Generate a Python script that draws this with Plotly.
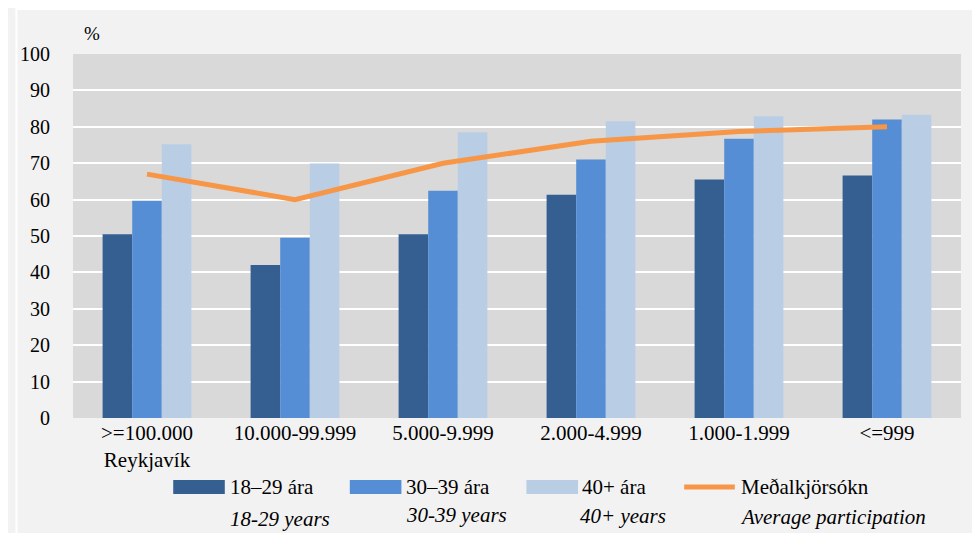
import plotly.graph_objects as go

categories = [">=100.000<br>Reykjavík", "10.000-99.999", "5.000-9.999", "2.000-4.999", "1.000-1.999", "<=999"]
age_18_29 = [50.5, 42.0, 50.5, 61.3, 65.5, 66.6]
age_30_39 = [59.7, 49.5, 62.4, 71.0, 76.7, 82.0]
age_40_plus = [75.2, 69.9, 78.5, 81.5, 82.9, 83.3]
average = [67, 60, 70, 76, 78.7, 80]

names_is = ["18–29 ára", "30–39 ára", "40+ ára", "Meðalkjörsókn"]
names_en = ["18-29 years", "30-39 years", "40+ years", "Average participation"]
colors = ["#365F91", "#558ED5", "#B9CDE5", "#F79646"]

FONT = "Liberation Serif"
OFF = 8  # page body margin
W, H = 980 - OFF, 533 - OFF
L = 66 - OFF
T = 54 - OFF
R = W - (961 - OFF)
B = H - (418 - OFF)
PW, PH = W - L - R, H - T - B


def px(x):
    return (x - OFF - L) / PW


def py(y):
    return (H - B - (y - OFF)) / PH


fig = go.Figure()
for vals, name, col in zip([age_18_29, age_30_39, age_40_plus], names_is[:3], colors[:3]):
    fig.add_trace(go.Bar(x=categories, y=vals, name=name, marker=dict(color=col, line=dict(width=0)),
                         showlegend=False))
fig.add_trace(go.Scatter(x=categories, y=average, name=names_is[3], mode="lines",
                         line=dict(color=colors[3], width=5), showlegend=False))

shapes = [
    dict(type="rect", xref="paper", yref="paper", x0=px(OFF), x1=px(980), y0=py(10), y1=py(OFF),
         fillcolor="white", line=dict(width=0), layer="below"),
    dict(type="rect", xref="paper", yref="paper", x0=px(OFF), x1=px(10), y0=py(533), y1=py(OFF),
         fillcolor="white", line=dict(width=0), layer="below"),
]
annotations = [
    dict(text="%", xref="paper", yref="paper", x=px(85), y=py(34), showarrow=False,
         font=dict(family=FONT, size=19, color="#000"), xanchor="center", yanchor="middle"),
]

sw_x = [167, 345, 523]
txt_x = [222, 400, 577, 737]
en_x = [222, 400, 575, 736]
en_y = [519, 515, 516, 517]
for i in range(3):
    shapes.append(dict(type="rect", xref="paper", yref="paper", x0=px(sw_x[i]), x1=px(sw_x[i] + 52),
                       y0=py(494), y1=py(480), fillcolor=colors[i], line=dict(width=0)))
shapes.append(dict(type="line", xref="paper", yref="paper", x0=px(682), x1=px(733), y0=py(487), y1=py(487),
                   line=dict(color=colors[3], width=5)))
for i in range(4):
    annotations.append(dict(text=names_is[i], xref="paper", yref="paper", x=px(txt_x[i]), y=py(487),
                            showarrow=False, xanchor="left", yanchor="middle",
                            font=dict(family=FONT, size=21, color="#000")))
    annotations.append(dict(text="<i>" + names_en[i] + "</i>", xref="paper", yref="paper", x=px(en_x[i]),
                            y=py(en_y[i]), showarrow=False, xanchor="left", yanchor="middle",
                            font=dict(family=FONT, size=21, color="#000")))

fig.update_layout(
    width=W, height=H,
    margin=dict(l=L, r=R, t=T, b=B, pad=0),
    paper_bgcolor="#F2F2F2",
    plot_bgcolor="#D9D9D9",
    barmode="group",
    bargap=0.4,
    bargroupgap=0,
    shapes=shapes,
    annotations=annotations,
    showlegend=False,
    font=dict(family=FONT, size=20, color="#000"),
)
fig.update_yaxes(range=[0, 100], dtick=10, showgrid=True, gridcolor="#FFFFFF", gridwidth=1.5,
                 zeroline=False, ticks="outside", ticklen=18, tickcolor="rgba(0,0,0,0)",
                 tickfont=dict(family=FONT, size=20, color="#000"), showline=False)
fig.update_xaxes(showgrid=False, showline=False, ticks="", ticklen=0,
                 tickfont=dict(family=FONT, size=21, color="#000"))

fig.write_html("out.html")
